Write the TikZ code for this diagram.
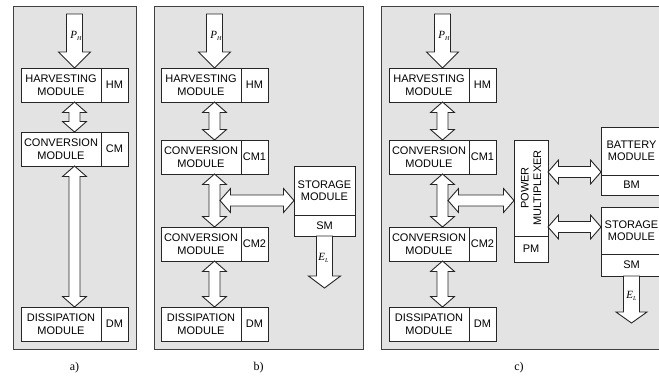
\documentclass[tikz,border=0pt]{standalone}
\usepackage{fontspec}
\setmainfont{Liberation Sans}
\newfontfamily\serifont{Liberation Serif}
\usetikzlibrary{calc}

\newcommand{\modfont}{\fontsize{11}{12.5}\selectfont}
\newcommand{\dsh}{5.5pt}
\newcommand{\dhh}{12pt}
\newcommand{\dhl}{10.5pt}

\tikzset{
  panel/.style={draw=black!75, fill=black!11, line width=0.6pt},
  modbox/.style={draw=black!85, fill=white, line width=0.8pt, inner sep=0pt, outer sep=0pt,
    align=center, font=\modfont, anchor=north west},
  barrow/.style={draw=black!85, fill=white, line width=0.9pt, line join=miter},
  flowlabel/.style={font=\serifont\itshape\fontsize{11}{11}\selectfont, inner sep=0pt},
  caption/.style={font=\serifont\fontsize{12}{12}\selectfont, inner sep=0pt},
}

\newcommand{\modnode}[5]{%
  \node[modbox, minimum width=80pt, minimum height=34pt] (#1m) at (#2,#3) {#4};
  \node[modbox, minimum width=27pt, minimum height=34pt] (#1s) at (#1m.north east) {#5};
  \coordinate (#1) at ($(#1m.west)!0.5!(#1s.east)$);}

\newcommand{\vdouble}[2]{%
  \draw[barrow] let \p1=#1, \p2=#2 in
  (\x1,\y1) -- (\x1+\dhh,\y1-\dhl) -- (\x1+\dsh,\y1-\dhl) -- (\x1+\dsh,\y2+\dhl)
  -- (\x1+\dhh,\y2+\dhl) -- (\x1,\y2) -- (\x1-\dhh,\y2+\dhl) -- (\x1-\dsh,\y2+\dhl)
  -- (\x1-\dsh,\y1-\dhl) -- (\x1-\dhh,\y1-\dhl) -- cycle;}

\newcommand{\hdouble}[2]{%
  \draw[barrow] let \p1=#1, \p2=#2 in
  (\x1,\y1) -- (\x1+\dhl,\y1+\dhh) -- (\x1+\dhl,\y1+\dsh) -- (\x2-\dhl,\y1+\dsh)
  -- (\x2-\dhl,\y1+\dhh) -- (\x2,\y1) -- (\x2-\dhl,\y1-\dhh) -- (\x2-\dhl,\y1-\dsh)
  -- (\x1+\dhl,\y1-\dsh) -- (\x1+\dhl,\y1-\dhh) -- cycle;}

\newcommand{\vsingle}[5]{%
  \draw[barrow] let \p1=#1, \p2=#2 in
  (\x1-#3,\y1) -- (\x1+#3,\y1) -- (\x1+#3,\y2+#5) -- (\x1+#4,\y2+#5) -- (\x1,\y2)
  -- (\x1-#4,\y2+#5) -- (\x1-#3,\y2+#5) -- cycle;}

\newcommand{\PH}{P\raisebox{-2.5pt}{\fontsize{6}{6}\selectfont H}}
\newcommand{\EL}{E\raisebox{-2.5pt}{\fontsize{6}{6}\selectfont L}}

\begin{document}
\begin{tikzpicture}[x=1pt,y=-1pt]
\useasboundingbox (0,0) rectangle (659,376);
\clip (0,0) rectangle (659,376);

% panels
\draw[panel] (13,6) rectangle (136,349);
\draw[panel] (154,6) rectangle (363,349);
\draw[panel] (381,6) rectangle (675,349);

% ---------------- panel a
\modnode{aHM}{21}{68}{HARVESTING\\MODULE}{HM}
\modnode{aCM}{21}{132}{CONVERSION\\MODULE}{CM}
\modnode{aDM}{21}{307}{DISSIPATION\\MODULE}{DM}
\coordinate (aIn) at (74.5,14);
\vsingle{(aIn)}{(aHMm.north -| aHM)}{8pt}{16pt}{16pt}
\node[flowlabel] (aPH) at (76,36) {\PH};
\vdouble{(aHMm.south -| aHM)}{(aCMm.north -| aCM)}
\vdouble{(aCMm.south -| aCM)}{(aDMm.north -| aDM)}
\node[caption] (aCap) at (74.5,368) {a)};

% ---------------- panel b
\modnode{bHM}{161}{68}{HARVESTING\\MODULE}{HM}
\modnode{bCMa}{161}{140}{CONVERSION\\MODULE}{CM1}
\modnode{bCMb}{161}{227}{CONVERSION\\MODULE}{CM2}
\modnode{bDM}{161}{307}{DISSIPATION\\MODULE}{DM}
\node[modbox, minimum width=61pt, minimum height=49pt] (bSTt) at (294,166) {STORAGE\\MODULE};
\node[modbox, minimum width=61pt, minimum height=21pt] (bSTb) at (bSTt.south west) {SM};
\coordinate (bIn) at (214.5,14);
\vsingle{(bIn)}{(bHMm.north -| bHM)}{8pt}{16pt}{16pt}
\node[flowlabel] (bPH) at (216,36) {\PH};
\vdouble{(bHMm.south -| bHM)}{(bCMam.north -| bCMa)}
\vdouble{(bCMam.south -| bCMa)}{(bCMbm.north -| bCMb)}
\vdouble{(bCMbm.south -| bCMb)}{(bDMm.north -| bDM)}
\coordinate (bJ) at ($(bCMa)!0.5!(bCMb)$);
\hdouble{($(bJ)+(5.5,0)$)}{(bJ -| bSTt.west)}
\coordinate (bOut) at ($(bSTb.south)+(0,52)$);
\vsingle{(bSTb.south)}{(bOut)}{8pt}{16pt}{12pt}
\node[flowlabel] (bEL) at ($(bSTb.south)+(-1,22)$) {\EL};
\node[caption] (bCap) at (258.5,368) {b)};

% ---------------- panel c
\modnode{cHM}{389}{68}{HARVESTING\\MODULE}{HM}
\modnode{cCMa}{389}{140}{CONVERSION\\MODULE}{CM1}
\modnode{cCMb}{389}{227}{CONVERSION\\MODULE}{CM2}
\modnode{cDM}{389}{307}{DISSIPATION\\MODULE}{DM}
\node[modbox, minimum width=34pt, minimum height=96pt] (cPMt) at (514,140) {};
\node[rotate=90, align=center, font=\modfont, inner sep=0pt] (cPMx) at (cPMt.center) {POWER\\MULTIPLEXER};
\node[modbox, minimum width=34pt, minimum height=26pt] (cPMb) at (cPMt.south west) {PM};
\node[modbox, minimum width=61pt, minimum height=48pt] (cBAt) at (601,127) {BATTERY\\MODULE};
\node[modbox, minimum width=61pt, minimum height=20pt] (cBAb) at (cBAt.south west) {BM};
\node[modbox, minimum width=61pt, minimum height=47pt] (cSTt) at (601,207) {STORAGE\\MODULE};
\node[modbox, minimum width=61pt, minimum height=22pt] (cSTb) at (cSTt.south west) {SM};
\coordinate (cIn) at (442.5,14);
\vsingle{(cIn)}{(cHMm.north -| cHM)}{8pt}{16pt}{16pt}
\node[flowlabel] (cPH) at (444,36) {\PH};
\vdouble{(cHMm.south -| cHM)}{(cCMam.north -| cCMa)}
\vdouble{(cCMam.south -| cCMa)}{(cCMbm.north -| cCMb)}
\vdouble{(cCMbm.south -| cCMb)}{(cDMm.north -| cDM)}
\coordinate (cJ) at ($(cCMa)!0.5!(cCMb)$);
\hdouble{($(cJ)+(5.5,0)$)}{(cJ -| cPMt.west)}
\coordinate (cK1) at ($(cBAt.south west)+(0,-3)$);
\hdouble{(cK1 -| cPMt.east)}{(cK1)}
\coordinate (cK2) at ($(cSTt.west)+(0,-3.5)$);
\hdouble{(cK2 -| cPMt.east)}{(cK2)}
\coordinate (cOut) at ($(cSTb.south)+(0,47)$);
\vsingle{(cSTb.south)}{(cOut)}{8pt}{15.5pt}{11pt}
\node[flowlabel] (cEL) at ($(cSTb.south)+(0,20)$) {\EL};
\node[caption] (cCap) at (519,368) {c)};
\end{tikzpicture}
\end{document}
